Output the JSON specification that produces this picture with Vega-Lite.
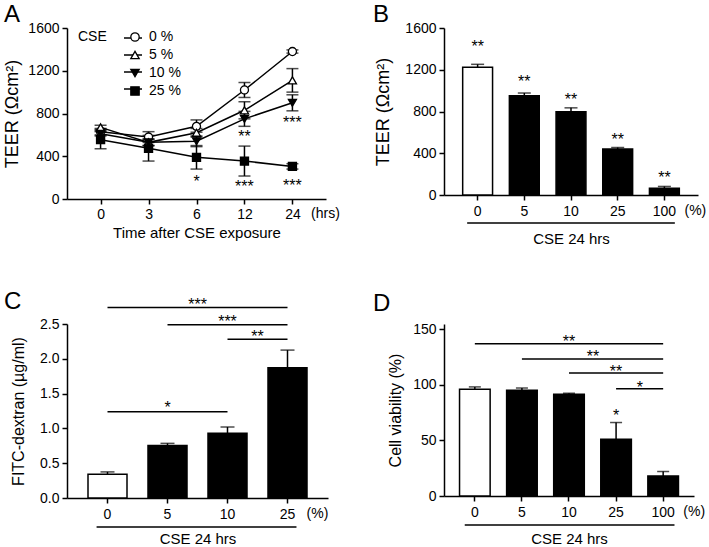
{
  "$schema": "https://vega.github.io/schema/vega-lite/v6.json",
  "padding": {"left": 3, "top": 3, "right": 0, "bottom": 0},
  "background": "white",
  "config": {
    "view": {"stroke": null},
    "font": "Liberation Sans",
    "axis": {"domainColor": "black", "domainWidth": 1.5, "tickColor": "black", "tickWidth": 1.5, "tickSize": 5, "labelColor": "black", "labelFontSize": 14, "labelFont": "Liberation Sans", "titleFont": "Liberation Sans", "titleFontSize": 15, "titleFontWeight": "normal", "titleColor": "black", "grid": false, "labelPadding": 3, "labelOverlap": false},
    "title": {"font": "Liberation Sans", "fontSize": 24, "fontWeight": "normal", "color": "black"},
    "legend": {"labelFont": "Liberation Sans", "titleFont": "Liberation Sans"}
  },
  "datasets": {
    "teer": [
      {"time": "0", "cse": "0 %", "mean": 630, "lo": 600, "hi": 660},
      {"time": "3", "cse": "0 %", "mean": 580, "lo": 530, "hi": 630},
      {"time": "6", "cse": "0 %", "mean": 680, "lo": 625, "hi": 740},
      {"time": "12", "cse": "0 %", "mean": 1020, "lo": 950, "hi": 1090},
      {"time": "24", "cse": "0 %", "mean": 1380, "lo": 1365, "hi": 1395},
      {"time": "0", "cse": "5 %", "mean": 670, "lo": 650, "hi": 690},
      {"time": "3", "cse": "5 %", "mean": 530, "lo": 500, "hi": 560},
      {"time": "6", "cse": "5 %", "mean": 620, "lo": 580, "hi": 660},
      {"time": "12", "cse": "5 %", "mean": 830, "lo": 750, "hi": 910},
      {"time": "24", "cse": "5 %", "mean": 1110, "lo": 1000, "hi": 1220},
      {"time": "0", "cse": "10 %", "mean": 610, "lo": 590, "hi": 630},
      {"time": "3", "cse": "10 %", "mean": 530, "lo": 500, "hi": 560},
      {"time": "6", "cse": "10 %", "mean": 540, "lo": 490, "hi": 590},
      {"time": "12", "cse": "10 %", "mean": 750, "lo": 680, "hi": 820},
      {"time": "24", "cse": "10 %", "mean": 900, "lo": 825, "hi": 975},
      {"time": "0", "cse": "25 %", "mean": 555, "lo": 470, "hi": 640},
      {"time": "3", "cse": "25 %", "mean": 475, "lo": 355, "hi": 595},
      {"time": "6", "cse": "25 %", "mean": 390, "lo": 280, "hi": 500},
      {"time": "12", "cse": "25 %", "mean": 355, "lo": 215, "hi": 495},
      {"time": "24", "cse": "25 %", "mean": 305, "lo": 280, "hi": 330}
    ],
    "astars": [
      {"time": "6", "y": 203, "label": "*"},
      {"time": "12", "y": 156, "label": "***"},
      {"time": "24", "y": 170, "label": "***"},
      {"time": "12", "y": 624, "label": "**"},
      {"time": "24", "y": 760, "label": "***"}
    ],
    "b": [
      {"cse": "0", "mean": 1223, "hi": 1252, "star": 1462},
      {"cse": "5", "mean": 950, "hi": 977, "star": 1127},
      {"cse": "10", "mean": 798, "hi": 835, "star": 961},
      {"cse": "25", "mean": 440, "hi": 455, "star": 575},
      {"cse": "100", "mean": 65, "hi": 82, "star": 208}
    ],
    "c": [
      {"cse": "0", "mean": 0.34, "hi": 0.375},
      {"cse": "5", "mean": 0.755, "hi": 0.785},
      {"cse": "10", "mean": 0.93, "hi": 1.02},
      {"cse": "25", "mean": 1.87, "hi": 2.125}
    ],
    "cbr": [
      {"from": "0", "to": "25", "y": 2.736},
      {"from": "5", "to": "25", "y": 2.49},
      {"from": "10", "to": "25", "y": 2.28},
      {"from": "0", "to": "10", "y": 1.24}
    ],
    "ctext": [
      {"x": "10", "y": 2.6, "label": "***"},
      {"x": "5", "y": 1.365, "label": "*"}
    ],
    "ctextmid": [
      {"x": "5", "y": 2.84, "label": "***"},
      {"x": "10", "y": 2.385, "label": "**"}
    ],
    "d": [
      {"cse": "0", "mean": 96, "hi": 98},
      {"cse": "5", "mean": 95, "hi": 97},
      {"cse": "10", "mean": 91.5, "hi": 92.3},
      {"cse": "25", "mean": 51, "hi": 66},
      {"cse": "100", "mean": 18, "hi": 22}
    ],
    "dbr": [
      {"from": "0", "to": "100", "y": 136.8},
      {"from": "5", "to": "100", "y": 123},
      {"from": "10", "to": "100", "y": 110.4},
      {"from": "25", "to": "100", "y": 96.4}
    ],
    "dtext": [
      {"x": "10", "y": 143, "label": "**"},
      {"x": "25", "y": 116, "label": "**"},
      {"x": "25", "y": 76, "label": "*"}
    ],
    "dtextmid": [
      {"x": "10", "y": 129, "label": "**"},
      {"x": "25", "y": 101.5, "label": "*"}
    ]
  },
  "columns": 2,
  "spacing": {"row": 125, "column": 116},
  "bounds": "flush",
  "align": "each",
  "concat": [
    {
      "width": 259,
      "height": 171,
      "title": {"text": "A", "frame": "group", "anchor": "start", "align": "left", "dx": -63, "offset": -25, "baseline": "alphabetic"},
      "layer": [
        {
          "data": {"name": "teer"},
          "mark": {"type": "line", "strokeWidth": 1.5},
          "encoding": {
            "x": {"field": "time", "type": "ordinal", "title": "Time after CSE exposure", "scale": {"type": "point", "padding": 0.7, "domain": ["0", "3", "6", "12", "24"]}, "axis": {"labelAngle": 0, "labelPadding": 3, "titlePadding": 4}},
            "y": {"field": "mean", "type": "quantitative", "title": "TEER (Ωcm²)", "scale": {"domain": [0, 1600], "nice": false}, "axis": {"values": [0, 400, 800, 1200, 1600], "tickCount": 10, "format": "d", "titlePadding": 6, "titleFontSize": 18, "labelOverlap": false}},
            "color": {
              "field": "cse", "type": "nominal",
              "sort": ["0 %", "5 %", "10 %", "25 %"],
              "scale": {"range": ["black", "black", "black", "black"]},
              "legend": {
                "title": null,
                "orient": "none", "legendX": 56, "legendY": 0, "padding": 0, "zindex": 0,
                "labelFontSize": 14, "labelExpr": "''", "labelOffset": 7,
                "symbolType": "stroke", "symbolSize": 324, "symbolStrokeWidth": 1.5, "rowPadding": 0
              }
            }
          }
        },
        {
          "data": {"name": "teer"},
          "mark": {"type": "rule", "color": "black", "strokeWidth": 1.5},
          "encoding": {
            "x": {"field": "time", "type": "ordinal", "title": "Time after CSE exposure"},
            "y": {"field": "lo", "type": "quantitative", "title": "TEER (Ωcm²)"},
            "y2": {"field": "hi"}
          }
        },
        {
          "data": {"name": "teer"},
          "mark": {"type": "tick", "color": "black", "thickness": 1.5, "size": 12},
          "encoding": {
            "x": {"field": "time", "type": "ordinal", "title": "Time after CSE exposure"},
            "y": {"field": "lo", "type": "quantitative", "title": "TEER (Ωcm²)"}
          }
        },
        {
          "data": {"name": "teer"},
          "mark": {"type": "tick", "color": "black", "thickness": 1.5, "size": 12},
          "encoding": {
            "x": {"field": "time", "type": "ordinal", "title": "Time after CSE exposure"},
            "y": {"field": "hi", "type": "quantitative", "title": "TEER (Ωcm²)"}
          }
        },
        {
          "data": {"name": "teer"},
          "mark": {"type": "point", "filled": true, "strokeWidth": 1.3, "size": 65, "opacity": 1},
          "encoding": {
            "x": {"field": "time", "type": "ordinal", "title": "Time after CSE exposure"},
            "y": {"field": "mean", "type": "quantitative", "title": "TEER (Ωcm²)"},
            "shape": {
              "field": "cse", "type": "nominal", "title": "CSE",
              "scale": {"domain": ["0 %", "5 %", "10 %", "25 %"], "range": ["circle", "triangle-up", "triangle-down", "square"]},
              "legend": {
                "orient": "none", "legendX": 11, "legendY": 2, "padding": 0, "zindex": 1,
                "titleOrient": "left", "titleAnchor": "start", "titleBaseline": "top", "titleFontSize": 14, "titleFontWeight": "normal", "titleColor": "black", "titlePadding": 21,
                "labelFontSize": 14, "labelColor": "black", "labelOffset": 7,
                "symbolSize": 70, "symbolStrokeWidth": 1.3, "rowPadding": 4
              }
            },
            "fill": {
              "field": "cse", "type": "nominal", "title": "CSE",
              "scale": {"domain": ["0 %", "5 %", "10 %", "25 %"], "range": ["white", "white", "black", "black"]},
              "legend": {
                "orient": "none", "legendX": 11, "legendY": 2, "padding": 0, "zindex": 1,
                "titleOrient": "left", "titleAnchor": "start", "titleBaseline": "top", "titleFontSize": 14, "titleFontWeight": "normal", "titleColor": "black", "titlePadding": 21,
                "labelFontSize": 14, "labelColor": "black", "labelOffset": 7,
                "symbolSize": 70, "symbolStrokeWidth": 1.3, "rowPadding": 4
              }
            },
            "stroke": {
              "field": "cse", "type": "nominal", "title": "CSE",
              "scale": {"domain": ["0 %", "5 %", "10 %", "25 %"], "range": ["black", "black", "black", "black"]},
              "legend": {
                "orient": "none", "legendX": 11, "legendY": 2, "padding": 0, "zindex": 1,
                "titleOrient": "left", "titleAnchor": "start", "titleBaseline": "top", "titleFontSize": 14, "titleFontWeight": "normal", "titleColor": "black", "titlePadding": 21,
                "labelFontSize": 14, "labelColor": "black", "labelOffset": 7,
                "symbolSize": 70, "symbolStrokeWidth": 1.3, "rowPadding": 4
              }
            }
          }
        },
        {
          "data": {"name": "astars"},
          "mark": {"type": "text", "fontSize": 16, "baseline": "middle", "dy": 5, "color": "black"},
          "encoding": {
            "x": {"field": "time", "type": "ordinal", "title": "Time after CSE exposure"},
            "y": {"field": "y", "type": "quantitative", "title": "TEER (Ωcm²)"},
            "text": {"field": "label"}
          }
        },
        {
          "data": {"values": [{}]},
          "mark": {"type": "text", "text": "(hrs)", "fontSize": 14, "baseline": "middle", "dx": 33, "dy": 15, "color": "black"},
          "encoding": {
            "x": {"datum": "24", "type": "ordinal", "title": "Time after CSE exposure"},
            "y": {"datum": 0, "type": "quantitative", "title": "TEER (Ωcm²)"}
          }
        }
      ]
    },
    {
      "width": 254,
      "height": 167,
      "title": {"text": "B", "frame": "group", "anchor": "start", "align": "left", "dx": -71, "offset": -25, "baseline": "alphabetic"},
      "layer": [
        {
          "data": {"name": "b"},
          "mark": {"type": "bar", "stroke": "black", "strokeWidth": 1.5},
          "encoding": {
            "x": {"field": "cse", "type": "ordinal", "title": "CSE 24 hrs", "scale": {"domain": ["0", "5", "10", "25", "100"], "paddingInner": 0.36, "paddingOuter": 0.4}, "axis": {"labelAngle": 0, "labelPadding": 4, "titlePadding": 13}},
            "y": {"field": "mean", "type": "quantitative", "title": "TEER (Ωcm²)", "scale": {"domain": [0, 1600], "nice": false}, "axis": {"values": [0, 400, 800, 1200, 1600], "tickCount": 10, "format": "d", "titlePadding": 12, "titleFontSize": 18, "labelOverlap": false}},
            "fill": {"condition": {"test": "datum.cse === '0'", "value": "white"}, "value": "black"}
          }
        },
        {
          "data": {"name": "b"},
          "mark": {"type": "rule", "color": "black", "strokeWidth": 1.5},
          "encoding": {
            "x": {"field": "cse", "type": "ordinal", "title": "CSE 24 hrs", "bandPosition": 0.5},
            "y": {"field": "mean", "type": "quantitative", "title": "TEER (Ωcm²)"},
            "y2": {"field": "hi"}
          }
        },
        {
          "data": {"name": "b"},
          "mark": {"type": "tick", "color": "black", "thickness": 1.5, "size": 13},
          "encoding": {
            "x": {"field": "cse", "type": "ordinal", "title": "CSE 24 hrs"},
            "y": {"field": "hi", "type": "quantitative", "title": "TEER (Ωcm²)"}
          }
        },
        {
          "data": {"name": "b"},
          "mark": {"type": "text", "text": "**", "fontSize": 16, "baseline": "middle", "dy": 5, "color": "black"},
          "encoding": {
            "x": {"field": "cse", "type": "ordinal", "title": "CSE 24 hrs", "bandPosition": 0.5},
            "y": {"field": "star", "type": "quantitative", "title": "TEER (Ωcm²)"}
          }
        },
        {
          "data": {"values": [{}]},
          "mark": {"type": "text", "text": "(%)", "fontSize": 14, "baseline": "middle", "dx": 31, "dy": 16, "color": "black"},
          "encoding": {
            "x": {"datum": "100", "type": "ordinal", "title": "CSE 24 hrs", "bandPosition": 0.5},
            "y": {"datum": 0, "type": "quantitative", "title": "TEER (Ωcm²)"}
          }
        },
        {
          "data": {"values": [{}]},
          "mark": {"type": "rule", "color": "black", "strokeWidth": 1.5, "yOffset": 28},
          "encoding": {
            "x": {"datum": "0", "type": "ordinal", "title": "CSE 24 hrs", "bandPosition": 0.15},
            "x2": {"datum": "100", "bandPosition": 0.85},
            "y": {"datum": 0, "type": "quantitative", "title": "TEER (Ωcm²)"}
          }
        }
      ]
    },
    {
      "width": 261,
      "height": 174,
      "title": {"text": "C", "frame": "group", "anchor": "start", "align": "left", "dx": -63, "offset": -36, "baseline": "alphabetic"},
      "layer": [
        {
          "data": {"name": "c"},
          "mark": {"type": "bar", "stroke": "black", "strokeWidth": 1.5},
          "encoding": {
            "x": {"field": "cse", "type": "ordinal", "title": "CSE 24 hrs", "scale": {"domain": ["0", "5", "10", "25"], "paddingInner": 0.35, "paddingOuter": 0.35}, "axis": {"labelAngle": 0, "labelPadding": 4, "titlePadding": 10}},
            "y": {"field": "mean", "type": "quantitative", "title": "FITC-dextran (µg/ml)", "scale": {"domain": [0, 2.5], "nice": false}, "axis": {"values": [0, 0.5, 1, 1.5, 2, 2.5], "tickCount": 10, "format": ".1f", "titlePadding": 13, "titleFontSize": 16, "labelOverlap": false}},
            "fill": {"condition": {"test": "datum.cse === '0'", "value": "white"}, "value": "black"}
          }
        },
        {
          "data": {"name": "c"},
          "mark": {"type": "rule", "color": "black", "strokeWidth": 1.5},
          "encoding": {
            "x": {"field": "cse", "type": "ordinal", "title": "CSE 24 hrs", "bandPosition": 0.5},
            "y": {"field": "mean", "type": "quantitative", "title": "FITC-dextran (µg/ml)"},
            "y2": {"field": "hi"}
          }
        },
        {
          "data": {"name": "c"},
          "mark": {"type": "tick", "color": "black", "thickness": 1.5, "size": 14},
          "encoding": {
            "x": {"field": "cse", "type": "ordinal", "title": "CSE 24 hrs"},
            "y": {"field": "hi", "type": "quantitative", "title": "FITC-dextran (µg/ml)"}
          }
        },
        {
          "data": {"name": "cbr"},
          "mark": {"type": "rule", "color": "black", "strokeWidth": 1.5},
          "encoding": {
            "x": {"field": "from", "type": "ordinal", "title": "CSE 24 hrs", "bandPosition": 0.5},
            "x2": {"field": "to", "bandPosition": 0.5},
            "y": {"field": "y", "type": "quantitative", "title": "FITC-dextran (µg/ml)"}
          }
        },
        {
          "data": {"name": "ctext"},
          "mark": {"type": "text", "fontSize": 16, "baseline": "middle", "dy": 5, "color": "black"},
          "encoding": {
            "x": {"field": "x", "type": "ordinal", "title": "CSE 24 hrs", "bandPosition": 0.5},
            "y": {"field": "y", "type": "quantitative", "title": "FITC-dextran (µg/ml)"},
            "text": {"field": "label"}
          }
        },
        {
          "data": {"name": "ctextmid"},
          "mark": {"type": "text", "fontSize": 16, "baseline": "middle", "dy": 5, "color": "black"},
          "encoding": {
            "x": {"field": "x", "type": "ordinal", "title": "CSE 24 hrs", "bandPosition": 1.27},
            "y": {"field": "y", "type": "quantitative", "title": "FITC-dextran (µg/ml)"},
            "text": {"field": "label"}
          }
        },
        {
          "data": {"values": [{}]},
          "mark": {"type": "text", "text": "(%)", "fontSize": 14, "baseline": "middle", "dx": 30, "dy": 16, "color": "black"},
          "encoding": {
            "x": {"datum": "25", "type": "ordinal", "title": "CSE 24 hrs", "bandPosition": 0.5},
            "y": {"datum": 0, "type": "quantitative", "title": "FITC-dextran (µg/ml)"}
          }
        },
        {
          "data": {"values": [{}]},
          "mark": {"type": "rule", "color": "black", "strokeWidth": 1.5, "yOffset": 29},
          "encoding": {
            "x": {"datum": "0", "type": "ordinal", "title": "CSE 24 hrs", "bandPosition": 0.22},
            "x2": {"datum": "25", "bandPosition": 0.73},
            "y": {"datum": 0, "type": "quantitative", "title": "FITC-dextran (µg/ml)"}
          }
        }
      ]
    },
    {
      "width": 250,
      "height": 172,
      "title": {"text": "D", "frame": "group", "anchor": "start", "align": "left", "dx": -71, "offset": -13, "baseline": "alphabetic"},
      "layer": [
        {
          "data": {"name": "d"},
          "mark": {"type": "bar", "stroke": "black", "strokeWidth": 1.5},
          "encoding": {
            "x": {"field": "cse", "type": "ordinal", "title": "CSE 24 hrs", "scale": {"domain": ["0", "5", "10", "25", "100"], "paddingInner": 0.35, "paddingOuter": 0.33}, "axis": {"labelAngle": 0, "labelPadding": 4, "titlePadding": 12}},
            "y": {"field": "mean", "type": "quantitative", "title": "Cell viability (%)", "scale": {"domain": [0, 154.5], "nice": false}, "axis": {"values": [0, 50, 100, 150], "tickCount": 10, "format": "d", "titlePadding": 9, "titleFontSize": 16, "labelOverlap": false}},
            "fill": {"condition": {"test": "datum.cse === '0'", "value": "white"}, "value": "black"}
          }
        },
        {
          "data": {"name": "d"},
          "mark": {"type": "rule", "color": "black", "strokeWidth": 1.5},
          "encoding": {
            "x": {"field": "cse", "type": "ordinal", "title": "CSE 24 hrs", "bandPosition": 0.5},
            "y": {"field": "mean", "type": "quantitative", "title": "Cell viability (%)"},
            "y2": {"field": "hi"}
          }
        },
        {
          "data": {"name": "d"},
          "mark": {"type": "tick", "color": "black", "thickness": 1.5, "size": 12},
          "encoding": {
            "x": {"field": "cse", "type": "ordinal", "title": "CSE 24 hrs"},
            "y": {"field": "hi", "type": "quantitative", "title": "Cell viability (%)"}
          }
        },
        {
          "data": {"name": "dbr"},
          "mark": {"type": "rule", "color": "black", "strokeWidth": 1.5},
          "encoding": {
            "x": {"field": "from", "type": "ordinal", "title": "CSE 24 hrs", "bandPosition": 0.5},
            "x2": {"field": "to", "bandPosition": 0.5},
            "y": {"field": "y", "type": "quantitative", "title": "Cell viability (%)"}
          }
        },
        {
          "data": {"name": "dtext"},
          "mark": {"type": "text", "fontSize": 16, "baseline": "middle", "dy": 5, "color": "black"},
          "encoding": {
            "x": {"field": "x", "type": "ordinal", "title": "CSE 24 hrs", "bandPosition": 0.5},
            "y": {"field": "y", "type": "quantitative", "title": "Cell viability (%)"},
            "text": {"field": "label"}
          }
        },
        {
          "data": {"name": "dtextmid"},
          "mark": {"type": "text", "fontSize": 16, "baseline": "middle", "dy": 5, "color": "black"},
          "encoding": {
            "x": {"field": "x", "type": "ordinal", "title": "CSE 24 hrs", "bandPosition": 1.28},
            "y": {"field": "y", "type": "quantitative", "title": "Cell viability (%)"},
            "text": {"field": "label"}
          }
        },
        {
          "data": {"values": [{}]},
          "mark": {"type": "text", "text": "(%)", "fontSize": 14, "baseline": "middle", "dx": 31, "dy": 16, "color": "black"},
          "encoding": {
            "x": {"datum": "100", "type": "ordinal", "title": "CSE 24 hrs", "bandPosition": 0.5},
            "y": {"datum": 0, "type": "quantitative", "title": "Cell viability (%)"}
          }
        },
        {
          "data": {"values": [{}]},
          "mark": {"type": "rule", "color": "black", "strokeWidth": 1.5, "yOffset": 29},
          "encoding": {
            "x": {"datum": "0", "type": "ordinal", "title": "CSE 24 hrs", "bandPosition": 0.17},
            "x2": {"datum": "100", "bandPosition": 0.87},
            "y": {"datum": 0, "type": "quantitative", "title": "Cell viability (%)"}
          }
        }
      ]
    }
  ]
}
